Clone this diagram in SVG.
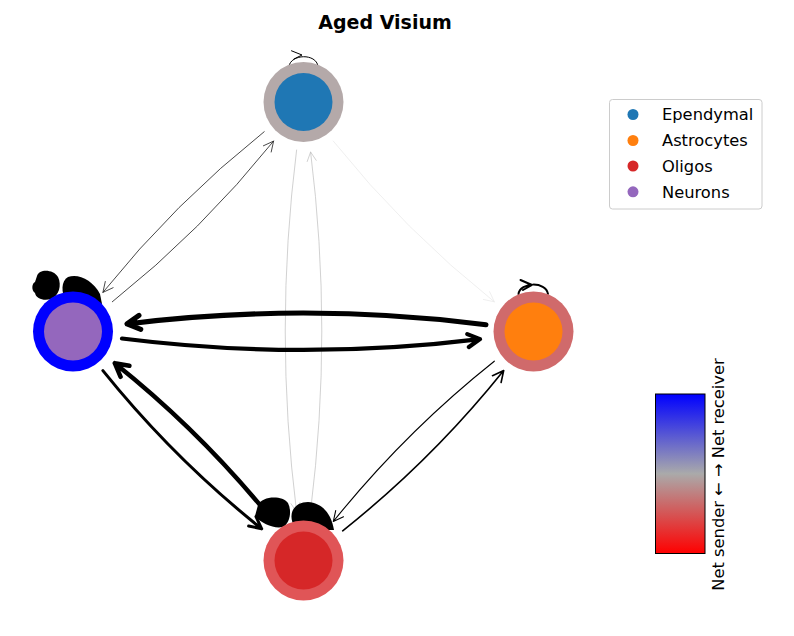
<svg xmlns="http://www.w3.org/2000/svg" width="794" height="636" viewBox="0 0 794 636">
<style>
.e{fill:none;stroke-linecap:round;stroke-linejoin:round}
.k{stroke:#000}
.dk{stroke:#1a1a1a}
.gr{stroke:#bdbdbd}
.lt{stroke:#e4e4e4}
.lbl{font-family:"DejaVu Sans",sans-serif;font-size:16.3px;fill:#000}
</style>
<defs>
<linearGradient id="cb" x1="0" y1="0" x2="0" y2="1">
<stop offset="0" stop-color="#0000ff"/>
<stop offset="0.5" stop-color="#aaaaaa"/>
<stop offset="1" stop-color="#ff0000"/>
</linearGradient>
</defs>
<rect width="794" height="636" fill="#fff"/>
<text x="385" y="29" text-anchor="middle" font-family="DejaVu Sans, sans-serif" font-weight="bold" font-size="19px">Aged Visium</text>

<g id="connectors">
<path class="e lt" stroke-width="0.6" d="M333.3,141.1 Q404.8,230.5 494.3,301.8 M483.4,299.5 L494.3,301.8 L489.6,291.7"/>
<path class="e gr" stroke-width="0.7" d="M296.6,150 Q273.8,331 296.6,512 M291,503.7 L296.6,512 L300,502.5"/>
<path class="e gr" stroke-width="0.7" d="M310.7,510 Q333,331 310.6,152 M316.2,160.3 L310.6,152 L307.2,161.5"/>
<path class="e dk" stroke-width="0.8" d="M112.3,301.8 Q201.9,230.5 273.6,141.1 M271.2,152 L273.6,141.1 L263.4,145.8"/>
<path class="e dk" stroke-width="0.8" d="M264.2,131.7 Q174.6,203 102.9,292.4 M105.3,281.5 L102.9,292.4 L113.1,287.7"/>
<path class="e k" stroke-width="5" d="M486,324.7 Q306.5,301.9 127,323.9 M139,315.4 L127,323.9 L140.8,329.3"/>
<path class="e k" stroke-width="4.2" d="M122,338.5 Q301,361.1 480,339.1 M468.9,347 L480,339.1 L467.3,334.1"/>
<path class="e k" stroke-width="3" d="M102.9,370.6 Q173.6,458.5 261.7,528.8 M248.6,526 L261.7,528.8 L256,516.6"/>
<path class="e k" stroke-width="4.5" d="M273.6,521.5 Q202.9,433.5 114.8,363.2 M129.4,365.8 L114.8,363.2 L120.6,376.8"/>
<path class="e k" stroke-width="1.6" d="M342.7,530.8 Q432.2,459.7 503.7,370.5 M501.1,382.5 L503.7,370.5 L492.5,375.7"/>
<path class="e k" stroke-width="1.1" d="M494.3,361.2 Q404.9,432.3 333.3,521.5 M335.7,510.6 L333.3,521.5 L343.5,516.8"/>
<path class="e k" stroke-width="1" d="M289,66 C291,54 316,53 318,66 M291.5,50.8 L302,55 L294,59"/>
<path class="e k" stroke-width="2" d="M518.5,294 C520,282 546,281 548,294 M520.5,280 L532,285 L523,290"/>
<path fill="#000" d="M37,276 C39,269 53,269 58,277 C62,285 59,296 51,299 C44,301 36,299 35,293 C31,290 32,283 35,282 Z"/>
<path fill="#000" d="M66,302 C61,292 61,281 68,277 C78,273 93,280 100,294 L102,304 Z"/>
<path fill="#000" d="M258,505 C262,496 282,495 288,503 C292,511 290,523 283,527 C274,529 262,524 255,516 Z"/>
<path fill="#000" d="M293,524 C288,511 296,502 308,502 C322,503 331,513 334,530 L300,530 Z"/>
</g>

<g id="node-ependymal">
<circle cx="303.5" cy="102" r="40" fill="#b4a9a9"/>
<circle cx="303.5" cy="102" r="29" fill="#1f77b4"/>
</g>
<g id="node-neurons">
<circle cx="73" cy="331.5" r="40" fill="#0000ff"/>
<circle cx="73" cy="331.5" r="29" fill="#9467bd"/>
</g>
<g id="node-astrocytes">
<circle cx="533.5" cy="331.5" r="40" fill="#d06a6b"/>
<circle cx="533.5" cy="331.5" r="29" fill="#ff7f0e"/>
</g>
<g id="node-oligos">
<circle cx="303.5" cy="560.5" r="40" fill="#e05557"/>
<circle cx="303.5" cy="560.5" r="29" fill="#d62728"/>
</g>

<g id="legend">
<rect x="609.5" y="99.5" width="152.5" height="109.5" rx="3" fill="#fff" stroke="#cccccc" stroke-width="1"/>
<circle cx="633" cy="114.5" r="5.5" fill="#1f77b4"/>
<circle cx="633" cy="140.5" r="5.5" fill="#ff7f0e"/>
<circle cx="633" cy="166" r="5.5" fill="#d62728"/>
<circle cx="633" cy="191.8" r="5.5" fill="#9467bd"/>
<text class="lbl" x="662" y="120">Ependymal</text>
<text class="lbl" x="662" y="146">Astrocytes</text>
<text class="lbl" x="662" y="171.5">Oligos</text>
<text class="lbl" x="662" y="197.5">Neurons</text>
</g>

<g id="colorbar">
<rect x="655.5" y="394" width="49.5" height="159.5" fill="url(#cb)" stroke="#000" stroke-width="1"/>
<text class="lbl" transform="translate(724,474.5) rotate(-90)" text-anchor="middle">Net sender ← → Net receiver</text>
</g>
</svg>
